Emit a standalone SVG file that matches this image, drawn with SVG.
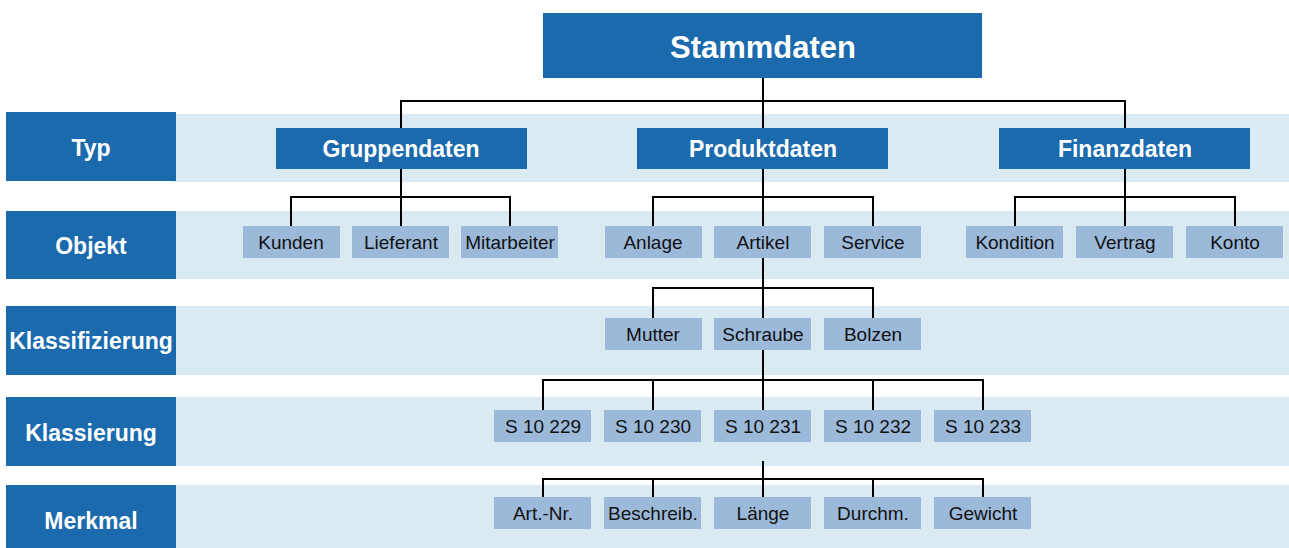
<svg xmlns="http://www.w3.org/2000/svg" width="1289" height="548" viewBox="0 0 1289 548">
<style>
.band{fill:#d9eaf2}
.lbl{fill:#1b6aad}
.dk{fill:#1b6aad}
.lt{fill:#9cb9da}
.tl{font-family:"Liberation Sans",Arial,sans-serif;font-weight:bold;font-size:23px;fill:#fff;text-anchor:middle}
.tt{font-family:"Liberation Sans",Arial,sans-serif;font-size:19px;fill:#111;text-anchor:middle}
.ln{fill:none;stroke:#000;stroke-width:2}
</style>
<rect width="1289" height="548" fill="#fff"/>
<g id="bands">
<rect class="band" x="170" y="114" width="1119" height="68"/>
<rect class="band" x="170" y="211" width="1119" height="68"/>
<rect class="band" x="170" y="306" width="1119" height="69"/>
<rect class="band" x="170" y="397" width="1119" height="69"/>
<rect class="band" x="170" y="485" width="1119" height="63"/>
</g>
<g id="row-labels">
<g id="lbl-typ"><rect class="lbl" x="6" y="112" width="170" height="69"/><text class="tl" x="91" y="156">Typ</text></g>
<g id="lbl-objekt"><rect class="lbl" x="6" y="211" width="170" height="68"/><text class="tl" x="91" y="254">Objekt</text></g>
<g id="lbl-klassifizierung"><rect class="lbl" x="6" y="306" width="170" height="69"/><text class="tl" x="91" y="349">Klassifizierung</text></g>
<g id="lbl-klassierung"><rect class="lbl" x="6" y="397" width="170" height="69"/><text class="tl" x="91" y="441">Klassierung</text></g>
<g id="lbl-merkmal"><rect class="lbl" x="6" y="485" width="170" height="63"/><text class="tl" x="91" y="529">Merkmal</text></g>
</g>
<g id="connectors">
<path class="ln" d="M763 78V128M401 128V101H1125V128"/>
<path class="ln" d="M401 169V226M291 226V197H510V226"/>
<path class="ln" d="M763 169V226M653 226V197H873V226"/>
<path class="ln" d="M1125 169V226M1015 226V197H1235V226"/>
<path class="ln" d="M763 258V318M653 318V288H873V318"/>
<path class="ln" d="M763 350V410M543 410V380H983V410M653 380V410M873 380V410"/>
<path class="ln" d="M763 461V497M543 497V479H983V497M653 479V497M873 479V497"/>
</g>
<g id="n-stammdaten"><rect class="dk" x="543" y="13" width="439" height="65"/><text class="tl" x="763" y="58" style="font-size:31px">Stammdaten</text></g>
<g id="n-gruppendaten"><rect class="dk" x="276" y="128" width="251" height="41"/><text class="tl" x="401" y="157">Gruppendaten</text></g>
<g id="n-produktdaten"><rect class="dk" x="637" y="128" width="251" height="41"/><text class="tl" x="763" y="157">Produktdaten</text></g>
<g id="n-finanzdaten"><rect class="dk" x="999" y="128" width="251" height="41"/><text class="tl" x="1125" y="157">Finanzdaten</text></g>
<g id="n-kunden"><rect class="lt" x="243" y="226" width="97" height="32"/><text class="tt" x="291" y="249">Kunden</text></g>
<g id="n-lieferant"><rect class="lt" x="352" y="226" width="97" height="32"/><text class="tt" x="401" y="249">Lieferant</text></g>
<g id="n-mitarbeiter"><rect class="lt" x="461" y="226" width="97" height="32"/><text class="tt" x="510" y="249">Mitarbeiter</text></g>
<g id="n-anlage"><rect class="lt" x="605" y="226" width="97" height="32"/><text class="tt" x="653" y="249">Anlage</text></g>
<g id="n-artikel"><rect class="lt" x="714" y="226" width="97" height="32"/><text class="tt" x="763" y="249">Artikel</text></g>
<g id="n-service"><rect class="lt" x="824" y="226" width="97" height="32"/><text class="tt" x="873" y="249">Service</text></g>
<g id="n-kondition"><rect class="lt" x="966" y="226" width="97" height="32"/><text class="tt" x="1015" y="249">Kondition</text></g>
<g id="n-vertrag"><rect class="lt" x="1076" y="226" width="97" height="32"/><text class="tt" x="1125" y="249">Vertrag</text></g>
<g id="n-konto"><rect class="lt" x="1186" y="226" width="97" height="32"/><text class="tt" x="1235" y="249">Konto</text></g>
<g id="n-mutter"><rect class="lt" x="605" y="318" width="97" height="32"/><text class="tt" x="653" y="341">Mutter</text></g>
<g id="n-schraube"><rect class="lt" x="714" y="318" width="97" height="32"/><text class="tt" x="763" y="341">Schraube</text></g>
<g id="n-bolzen"><rect class="lt" x="824" y="318" width="97" height="32"/><text class="tt" x="873" y="341">Bolzen</text></g>
<g id="n-s10229"><rect class="lt" x="494" y="410" width="97" height="32"/><text class="tt" x="543" y="433">S 10 229</text></g>
<g id="n-s10230"><rect class="lt" x="604" y="410" width="97" height="32"/><text class="tt" x="653" y="433">S 10 230</text></g>
<g id="n-s10231"><rect class="lt" x="714" y="410" width="97" height="32"/><text class="tt" x="763" y="433">S 10 231</text></g>
<g id="n-s10232"><rect class="lt" x="824" y="410" width="97" height="32"/><text class="tt" x="873" y="433">S 10 232</text></g>
<g id="n-s10233"><rect class="lt" x="934" y="410" width="97" height="32"/><text class="tt" x="983" y="433">S 10 233</text></g>
<g id="n-artnr"><rect class="lt" x="494" y="497" width="97" height="32"/><text class="tt" x="543" y="520">Art.-Nr.</text></g>
<g id="n-beschreib"><rect class="lt" x="604" y="497" width="97" height="32"/><text class="tt" x="653" y="520">Beschreib.</text></g>
<g id="n-laenge"><rect class="lt" x="714" y="497" width="97" height="32"/><text class="tt" x="763" y="520">Länge</text></g>
<g id="n-durchm"><rect class="lt" x="824" y="497" width="97" height="32"/><text class="tt" x="873" y="520">Durchm.</text></g>
<g id="n-gewicht"><rect class="lt" x="934" y="497" width="97" height="32"/><text class="tt" x="983" y="520">Gewicht</text></g>
</svg>
